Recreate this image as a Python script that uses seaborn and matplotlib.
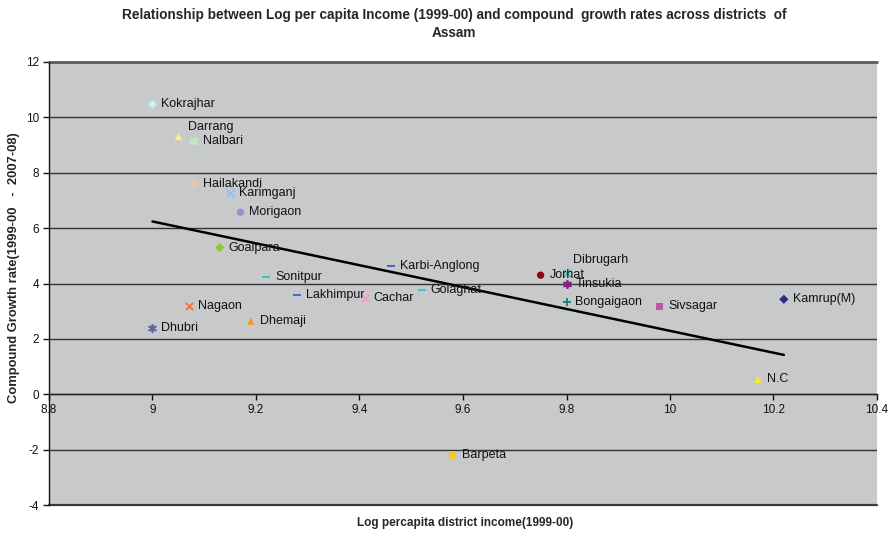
import matplotlib
matplotlib.use("Agg")
import matplotlib.pyplot as plt
import matplotlib.ticker as mticker
import numpy as np
import pandas as pd
import seaborn as sns

# District data: log per-capita income (1999-00) and compound growth rate
districts = ["Kokrajhar", "Darrang", "Nalbari", "Hailakandi", "Karimganj", "Morigaon",
             "Goalpara", "Sonitpur", "Lakhimpur", "Karbi-Anglong", "Cachar", "Golaghat",
             "Nagaon", "Dhemaji", "Dhubri", "Jorhat", "Dibrugarh", "Tinsukia",
             "Bongaigaon", "Sivsagar", "Kamrup(M)", "N.C", "Barpeta"]
log_income = [9.00, 9.05, 9.08, 9.08, 9.15, 9.17,
              9.13, 9.22, 9.28, 9.46, 9.41, 9.52,
              9.07, 9.19, 9.00, 9.75, 9.80, 9.80,
              9.80, 9.98, 10.22, 10.17, 9.58]
growth_rate = [10.47, 9.31, 9.13, 7.58, 7.26, 6.57,
               5.30, 4.22, 3.60, 4.62, 3.47, 3.75,
               3.18, 2.64, 2.38, 4.30, 4.37, 3.97,
               3.32, 3.18, 3.43, 0.54, -2.20]

x_ticks = [8.8, 9.0, 9.2, 9.4, 9.6, 9.8, 10.0, 10.2, 10.4]
y_ticks = [-4, -2, 0, 2, 4, 6, 8, 10, 12]

# Marker and colour per series
STAR = (6, 2, 0)
styles = {
    "Kokrajhar": ("D", "#c8f0ec"), "Darrang": ("^", "#f2f08c"), "Nalbari": ("s", "#bfe6c4"),
    "Hailakandi": ("+", "#f5c89a"), "Karimganj": ("x", "#8cbff0"), "Morigaon": ("o", "#a58ad2"),
    "Goalpara": ("D", "#8cc43c"), "Sonitpur": ("_", "#2cc4c4"), "Lakhimpur": ("_", "#3a66c8"),
    "Karbi-Anglong": ("_", "#3a5cb8"), "Cachar": ("x", "#f59ac4"), "Golaghat": ("_", "#1ec8f0"),
    "Nagaon": ("x", "#f2713a"), "Dhemaji": ("^", "#f59a1e"), "Dhubri": (STAR, "#66669a"),
    "Jorhat": ("o", "#8c0a0a"), "Dibrugarh": ("x", "#3cc4c0"), "Tinsukia": (STAR, "#8c1c8c"),
    "Bongaigaon": ("+", "#0a8080"), "Sivsagar": ("s", "#bc56a8"), "Kamrup(M)": ("D", "#2a2a8c"),
    "N.C": ("^", "#f5f01e"), "Barpeta": ("s", "#f5c81e"),
}
# Label offsets in pixels (default: to the right of the marker)
label_offsets = {"Darrang": (10, 9), "Dibrugarh": (6, 13)}

df = pd.DataFrame({"district": districts, "x": log_income, "y": growth_rate})

sns.set_style("white")
plt.rcParams["font.family"] = ["Liberation Sans", "DejaVu Sans"]

fig = plt.figure(figsize=(8.94, 5.33), dpi=100)
ax = fig.add_axes([49 / 894, 1 - 505 / 533, (877 - 49) / 894, (505 - 62) / 533])
ax.set_facecolor("#c8c9cb")

for _, row in df.iterrows():
    marker, color = styles[row["district"]]
    line_art = marker in ("+", "x", "_") or marker == STAR
    kw = dict(linewidth=1.3) if line_art else dict(edgecolor="none")
    size = 30 if marker == "_" else (22 if marker == "D" else 28)
    sns.scatterplot(x=[row["x"]], y=[row["y"]], marker=marker, color=color,
                    s=size, ax=ax, zorder=4, legend=False, **kw)
    dx, dy = label_offsets.get(row["district"], (9, 0))
    ax.annotate(row["district"], (row["x"], row["y"]), xytext=(dx, dy),
                textcoords="offset pixels", ha="left", va="center",
                fontsize=9, color="#111111", zorder=5)

# Least-squares trend line over the data range
sns.regplot(data=df, x="x", y="y", scatter=False, ci=None, truncate=True,
            color="black", line_kws=dict(linewidth=1.8, zorder=3), ax=ax)

ax.set_xlim(8.8, 10.4)
ax.set_ylim(-4, 12)
ax.set_xticks(x_ticks)
ax.set_yticks(y_ticks)
fmt = mticker.FuncFormatter(lambda v, p: f"{v:g}")
ax.xaxis.set_major_formatter(fmt)
ax.yaxis.set_major_formatter(fmt)

# Horizontal gridlines, plus top and bottom edges of the plot area
for yv in y_ticks[1:-1]:
    ax.axhline(yv, color="#333333", linewidth=1.0, zorder=1)
ax.axhline(12, color="#5a5a5a", linewidth=2.0, zorder=2, clip_on=False)
ax.axhline(-4, color="#3a3a3a", linewidth=1.6, zorder=2, clip_on=False)

# x axis crosses at y = 0
for s in ("top", "right"):
    ax.spines[s].set_visible(False)
ax.spines["bottom"].set_position(("data", 0))
ax.spines["bottom"].set_color("#222222")
ax.spines["bottom"].set_linewidth(1.0)
ax.spines["left"].set_color("#111111")
ax.spines["left"].set_linewidth(1.0)
ax.tick_params(axis="x", direction="out", length=4, width=1, pad=3,
               labelsize=8.5, colors="#111111", bottom=True)
ax.tick_params(axis="y", direction="out", length=4, width=1, pad=3,
               labelsize=8.5, colors="#111111", left=True)

ax.set_xlabel("")
ax.set_ylabel("")
fig.text(465 / 894, 1 - 523 / 533, "Log percapita district income(1999-00)",
         ha="center", va="center", fontsize=8.5, fontweight="bold")
fig.text(14 / 894, 1 - 268 / 533, "Compound Growth rate(1999-00   -  2007-08)",
         ha="center", va="center", rotation=90, fontsize=9.4, fontweight="bold")
fig.text(454 / 894, 1 - 24 / 533,
         "Relationship between Log per capita Income (1999-00) and compound  growth rates across districts  of\nAssam",
         ha="center", va="center", fontsize=9.8, fontweight="bold", linespacing=1.3)

fig.savefig("out.png", dpi=100, facecolor="white")
